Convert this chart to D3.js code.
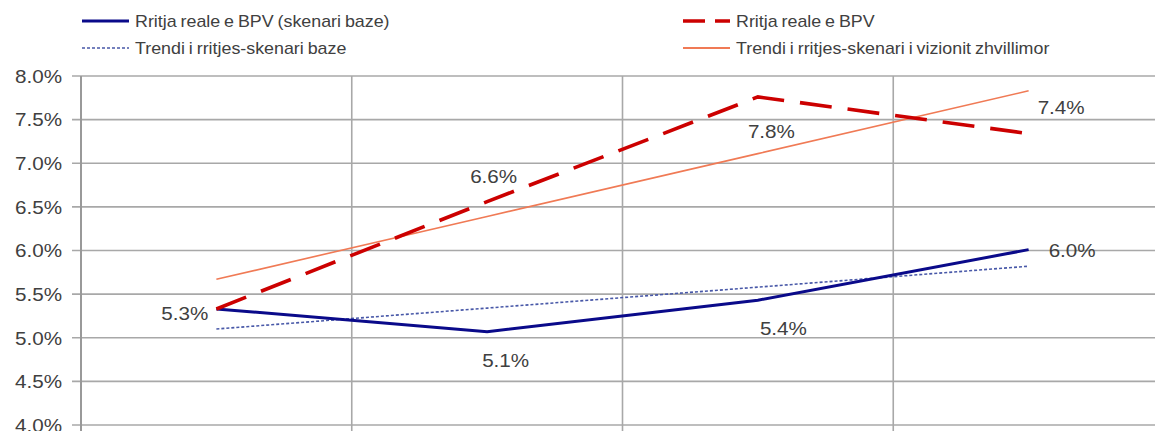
<!DOCTYPE html>
<meta charset="utf-8">
<style>
  body { margin: 0; background: #fff; }
  text { font-family: "Liberation Sans", Arial, sans-serif; fill: #404040; }
  .grid line { stroke: #a8a8a8; stroke-width: 1.6px; }
  .line { fill: none; }
</style>
<svg width="1155" height="431"></svg>
<script src="https://cdnjs.cloudflare.com/ajax/libs/d3/7.8.5/d3.min.js"></script>
<script>

  // categories (x labels are cut off below the visible area)
  var categories = ["2008", "2009", "2010", "2011"];

  // series values, in percent
  var realBase = [5.33, 5.07, 5.43, 6.01];
  var realVision = [5.33, 6.56, 7.76, 7.34];
  var trendBase = [5.10, 5.34, 5.58, 5.82];
  var trendVision = [5.67, 6.39, 7.11, 7.83];

  var yTicks = [4.0, 4.5, 5.0, 5.5, 6.0, 6.5, 7.0, 7.5, 8.0];

  // data labels: which point of which series, and where the label sits
  var labelSpecs = [
    { series: "real", i: 0, text: "5.3%", dx: -8, dy: 5, anchor: "end" },
    { series: "real", i: 1, text: "5.1%", dx: -5, dy: 29, anchor: "start" },
    { series: "real", i: 2, text: "5.4%", dx: 2, dy: 28, anchor: "start" },
    { series: "real", i: 3, text: "6.0%", dx: 20, dy: 1, anchor: "start" },
    { series: "vision", i: 1, text: "6.6%", dx: -17, dy: -25, anchor: "start" },
    { series: "vision", i: 2, text: "7.8%", dx: -10, dy: 35, anchor: "start" },
    { series: "vision", i: 3, text: "7.4%", dx: 9, dy: -26, anchor: "start" }
  ];

  var svg = d3.select("svg"),
    margin = { top: 76, left: 81 },
    width = 1083,
    height = 349,
    g = svg.append("g").attr("transform", "translate(" + margin.left + "," + margin.top + ")");

  var xScale = d3.scaleBand().domain(categories).range([0, width]).padding(0);
  var yScale = d3.scaleLinear().domain([4, 8]).range([height, 0]);

  function cx(i) { return xScale(categories[i]) + xScale.bandwidth() / 2; }

  // horizontal grid with small outward ticks
  g.append("g")
    .attr("class", "grid")
    .selectAll("line")
    .data(yTicks)
    .enter().append("line")
    .attr("x1", -9)
    .attr("x2", width + 20)
    .attr("y1", function (d) { return yScale(d); })
    .attr("y2", function (d) { return yScale(d); });

  // vertical grid at category boundaries
  g.append("g")
    .attr("class", "grid")
    .selectAll("line")
    .data(categories.slice(1))
    .enter().append("line")
    .attr("x1", function (d) { return xScale(d); })
    .attr("x2", function (d) { return xScale(d); })
    .attr("y1", 0)
    .attr("y2", height + 10);

  // y axis
  var yAxis = g.append("g")
    .call(d3.axisLeft(yScale).tickValues(yTicks).tickSize(0).tickPadding(0)
      .tickFormat(function (d) { return d3.format(".1f")(d) + "%"; }));
  yAxis.select(".domain").attr("stroke", "#999").attr("stroke-width", 2);
  yAxis.selectAll("text")
    .attr("x", 0)
    .attr("dy", "0.36em")
    .style("font-size", "17.5px")
    .attr("fill", "#404040")
    .attr("transform", "translate(-19,0) scale(1.18,1)");
  yAxis.selectAll(".domain").attr("d", "M0,0V" + (height + 10));

  var line = d3.line()
    .x(function (d, i) { return cx(i); })
    .y(function (d) { return yScale(d); });

  var series = [
    { id: "trendVision", values: trendVision, color: "#f07a55", width: 1.6, dash: null },
    { id: "trendBase", values: trendBase, color: "#4858a8", width: 1.6, dash: "3,2" },
    { id: "real", values: realBase, color: "#0a0a8a", width: 3, dash: null },
    { id: "vision", values: realVision, color: "#cc0000", width: 3.6, dash: "32,16" }
  ];

  g.selectAll(".series")
    .data(series)
    .enter().append("path")
    .attr("class", "line")
    .attr("d", function (d) { return line(d.values); })
    .attr("stroke", function (d) { return d.color; })
    .attr("stroke-width", function (d) { return d.width; })
    .attr("stroke-dasharray", function (d) { return d.dash; });

  // data labels
  g.selectAll(".dlabel")
    .data(labelSpecs)
    .enter().append("text")
    .attr("class", "dlabel")
    .attr("transform", function (d) {
      var v = (d.series === "real" ? realBase : realVision)[d.i];
      return "translate(" + (cx(d.i) + d.dx) + "," + (yScale(v) + d.dy) + ") scale(1.18,1)";
    })
    .attr("dy", "0.36em")
    .attr("text-anchor", function (d) { return d.anchor; })
    .style("font-size", "17.5px")
    .text(function (d) { return d.text; });

  // legend
  var legendItems = [
    { text: "Rritja reale e BPV (skenari baze)", color: "#0a0a8a", width: 3, dash: null, x: 82, y: 21 },
    { text: "Trendi i rritjes-skenari baze", color: "#4858a8", width: 1.6, dash: "3,2", x: 82, y: 48 },
    { text: "Rritja reale e BPV", color: "#cc0000", width: 3.4, dash: "22,10", x: 683, y: 21 },
    { text: "Trendi i rritjes-skenari i vizionit zhvillimor", color: "#f07a55", width: 1.8, dash: null, x: 683, y: 48 }
  ];

  var legend = svg.selectAll(".legend")
    .data(legendItems)
    .enter().append("g")
    .attr("class", "legend")
    .attr("transform", function (d) { return "translate(" + d.x + "," + d.y + ")"; });

  legend.append("line")
    .attr("x1", 0)
    .attr("x2", 47)
    .attr("stroke", function (d) { return d.color; })
    .attr("stroke-width", function (d) { return d.width; })
    .attr("stroke-dasharray", function (d) { return d.dash; });

  legend.append("text")
    .attr("transform", "translate(53,0) scale(1.05,1)")
    .attr("dy", "0.36em")
    .style("font-size", "17px")
    .style("word-spacing", "-1px")
    .text(function (d) { return d.text; });

</script>
